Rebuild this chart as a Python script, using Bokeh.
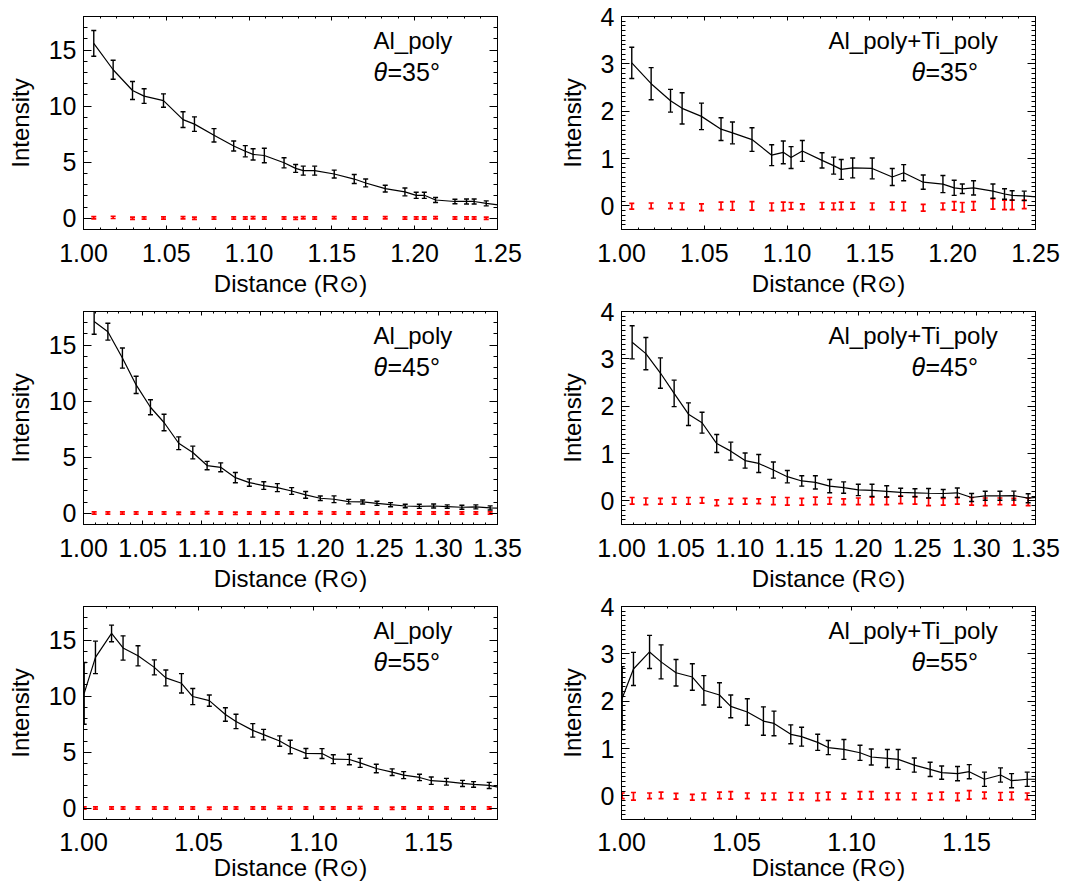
from bokeh.plotting import figure
from bokeh.models import (LinearAxis, FixedTicker, PrintfTickFormatter, Range1d, Label,
                          ColumnDataSource, CustomJSTickFormatter)
from bokeh.layouts import gridplot
from bokeh.embed import file_html
from bokeh.resources import INLINE
import numpy as np

FONT = "Liberation Sans"

# ---------------- data ----------------
x35 = [1.0062, 1.0179, 1.0296, 1.0366, 1.0483, 1.0601, 1.0670, 1.0788, 1.0907, 1.0977,
       1.1024, 1.1092, 1.1211, 1.1281, 1.1327, 1.1396, 1.1514, 1.1635, 1.1704, 1.1822,
       1.1941, 1.2009, 1.2058, 1.2126, 1.2243, 1.2313, 1.2359, 1.2432, 1.2550]
al35 = [15.6, 13.25, 11.4, 10.9, 10.5, 8.8, 8.4, 7.4, 6.45, 5.98, 5.7, 5.6, 4.95, 4.45, 4.25,
        4.25, 3.95, 3.5, 3.15, 2.65, 2.35, 2.05, 2.05, 1.63, 1.5, 1.5, 1.5, 1.33, 1.10]
al35_err = [1.15, 0.85, 0.8, 0.65, 0.6, 0.7, 0.65, 0.6, 0.45, 0.5, 0.5, 0.65, 0.45, 0.35, 0.4,
            0.4, 0.35, 0.4, 0.35, 0.3, 0.35, 0.27, 0.27, 0.22, 0.2, 0.22, 0.22, 0.22, 0.2]
al35_bg = [0.05, 0.08, 0.0, 0.03, 0.02, 0.04, 0.0, 0.02, 0.03, 0.02, 0.05, 0.02, 0.03, 0.0, 0.04,
           0.02, 0.05, 0.02, 0.03, 0.04, 0.03, 0.03, 0.02, 0.04, 0.02, 0.02, 0.03, 0.0, 0.0]
al35_bg_err = [0.1] * 29
ti35 = [3.02, 2.58, 2.22, 2.06, 1.89, 1.62, 1.54, 1.40, 1.07, 1.13, 1.02, 1.16, 0.96, 0.85, 0.77,
        0.80, 0.79, 0.61, 0.70, 0.50, 0.46, 0.38, 0.36, 0.38, 0.31, 0.25, 0.22, 0.21, 0.175]
ti35_err = [0.33, 0.34, 0.24, 0.33, 0.28, 0.24, 0.23, 0.25, 0.22, 0.24, 0.23, 0.22, 0.16, 0.18, 0.21,
            0.21, 0.22, 0.18, 0.17, 0.15, 0.18, 0.16, 0.10, 0.15, 0.15, 0.11, 0.10, 0.10, 0.10]
ti35_bg = [-0.01, 0.0, 0.0, -0.01, -0.03, 0.0, 0.0, 0.0, -0.02, -0.01, 0.0, -0.02, 0.0, -0.01, 0.0,
           0.0, -0.01, 0.0, -0.01, -0.04, -0.01, 0.0, -0.03, 0.0, 0.04, 0.02, 0.02, 0.03, 0.0]
ti35_bg_err = [0.06, 0.06, 0.06, 0.07, 0.07, 0.08, 0.09, 0.09, 0.08, 0.09, 0.07, 0.06, 0.07, 0.07, 0.08,
               0.07, 0.07, 0.08, 0.09, 0.07, 0.07, 0.09, 0.1, 0.09, 0.11, 0.1, 0.1, 0.09, 0.08]

x45 = [1.0090, 1.0206, 1.0329, 1.0445, 1.0566, 1.0681, 1.0805, 1.0924, 1.1045, 1.1160,
       1.1284, 1.1402, 1.1524, 1.1639, 1.1760, 1.1878, 1.2002, 1.2118, 1.2242, 1.2360,
       1.2481, 1.2596, 1.2720, 1.2839, 1.2960, 1.3075, 1.3199, 1.3317, 1.3438, 1.3556]
al45 = [17.1, 16.2, 13.85, 11.45, 9.46, 8.1, 6.25, 5.42, 4.26, 4.1, 3.18, 2.74, 2.47, 2.29, 1.99,
        1.64, 1.34, 1.25, 1.04, 1.01, 0.89, 0.77, 0.65, 0.62, 0.65, 0.6, 0.54, 0.57, 0.48, 0.43]
al45_err = [1.13, 0.75, 0.9, 0.77, 0.67, 0.74, 0.57, 0.57, 0.37, 0.4, 0.46, 0.33, 0.34, 0.36, 0.3,
            0.3, 0.2, 0.3, 0.2, 0.18, 0.18, 0.18, 0.15, 0.18, 0.18, 0.15, 0.18, 0.18, 0.18, 0.15]
al45_bg = [0.03, 0.02, 0.03, 0.02, 0.03, 0.02, 0.01, 0.02, 0.04, 0.02, 0.01, 0.02, 0.03, 0.02, 0.03,
           0.02, 0.04, 0.02, 0.03, 0.02, 0.03, 0.03, 0.02, 0.03, 0.02, 0.02, 0.03, 0.02, 0.02, 0.0]
al45_bg_err = [0.1] * 30
ti45 = [3.35, 3.11, 2.70, 2.27, 1.83, 1.65, 1.21, 1.05, 0.85, 0.79, 0.65, 0.51, 0.42, 0.39, 0.31,
        0.28, 0.23, 0.22, 0.20, 0.18, 0.17, 0.16, 0.155, 0.17, 0.07, 0.106, 0.106, 0.11, 0.056, 0.09]
ti45_err = [0.35, 0.34, 0.32, 0.28, 0.24, 0.22, 0.19, 0.19, 0.16, 0.19, 0.17, 0.13, 0.11, 0.14, 0.14,
            0.12, 0.12, 0.13, 0.12, 0.085, 0.085, 0.1, 0.085, 0.1, 0.085, 0.095, 0.095, 0.095, 0.095, 0.09]
ti45_bg = [0.0, -0.01, -0.01, 0.0, 0.0, 0.01, -0.04, -0.01, -0.01, -0.01, 0.0, -0.01, -0.02, 0.0, 0.0,
           -0.02, -0.01, 0.0, 0.0, 0.02, 0.01, -0.02, -0.02, 0.0, -0.01, -0.02, -0.01, -0.02, -0.02, 0.0]
ti45_bg_err = [0.07, 0.07, 0.06, 0.07, 0.07, 0.06, 0.06, 0.06, 0.06, 0.05, 0.08, 0.08, 0.07, 0.08, 0.07,
               0.06, 0.07, 0.08, 0.08, 0.08, 0.08, 0.08, 0.07, 0.07, 0.08, 0.08, 0.07, 0.07, 0.08, 0.07]

x55 = [1.0003, 1.0052, 1.0122, 1.0172, 1.0237, 1.0308, 1.0358, 1.0426, 1.0475, 1.0547,
       1.0617, 1.0663, 1.0736, 1.0783, 1.0853, 1.0899, 1.0967, 1.1037, 1.1086, 1.1156,
       1.1203, 1.1273, 1.1342, 1.1392, 1.1461, 1.1512, 1.1578, 1.1648, 1.1696, 1.1764, 1.1813]
al55 = [10.25, 13.46, 15.6, 14.3, 13.6, 12.57, 11.63, 11.15, 9.97, 9.6, 8.37, 7.75, 6.95, 6.57, 6.0,
        5.47, 4.9, 4.88, 4.38, 4.35, 4.05, 3.55, 3.22, 2.96, 2.75, 2.46, 2.37, 2.22, 2.13, 2.04, 1.85]
al55_err = [2.75, 1.45, 0.74, 1.08, 0.9, 0.67, 0.71, 0.86, 0.72, 0.5, 0.6, 0.64, 0.6, 0.47, 0.46,
            0.6, 0.43, 0.44, 0.4, 0.47, 0.4, 0.38, 0.3, 0.31, 0.28, 0.33, 0.3, 0.27, 0.25, 0.27, 0.25]
al55_bg = [0.03, 0.02, 0.03, 0.02, 0.03, 0.02, 0.03, 0.02, 0.02, 0.01, 0.02, 0.03, 0.02, 0.03, 0.04,
           0.02, 0.03, 0.02, 0.03, 0.02, 0.04, 0.02, 0.01, 0.03, 0.02, 0.03, 0.02, 0.03, 0.02, 0.02, 0.0]
al55_bg_err = [0.1] * 31
ti55 = [2.06, 2.68, 3.04, 2.83, 2.6, 2.51, 2.23, 2.13, 1.89, 1.77, 1.58, 1.53, 1.30, 1.25, 1.13,
        1.02, 0.98, 0.91, 0.82, 0.79, 0.77, 0.65, 0.56, 0.49, 0.47, 0.51, 0.35, 0.44, 0.32, 0.35, 0.35]
ti55_err = [0.67, 0.35, 0.35, 0.36, 0.28, 0.28, 0.31, 0.26, 0.24, 0.28, 0.3, 0.26, 0.2, 0.2, 0.17,
            0.15, 0.21, 0.16, 0.17, 0.19, 0.21, 0.15, 0.15, 0.14, 0.15, 0.15, 0.15, 0.15, 0.15, 0.15, 0.15]
ti55_bg = [0.0, -0.01, 0.0, 0.01, -0.01, -0.03, -0.01, 0.01, 0.01, 0.0, -0.02, -0.01, -0.01, -0.01, -0.02,
           0.0, -0.01, 0.01, 0.01, -0.01, -0.01, -0.01, -0.02, 0.0, -0.02, 0.02, 0.01, -0.01, 0.0, -0.01, 0.0]
ti55_bg_err = [0.06, 0.08, 0.06, 0.07, 0.06, 0.06, 0.07, 0.07, 0.08, 0.06, 0.07, 0.07, 0.08, 0.07, 0.08,
               0.08, 0.06, 0.08, 0.08, 0.07, 0.07, 0.07, 0.07, 0.08, 0.08, 0.09, 0.07, 0.08, 0.08, 0.07, 0.07]

# axis ticks / labels
x_ticks_a = [1.00, 1.05, 1.10, 1.15, 1.20, 1.25]
x_ticks_b = [1.00, 1.05, 1.10, 1.15, 1.20, 1.25, 1.30, 1.35]
x_ticks_c = [1.00, 1.05, 1.10, 1.15]
y_ticks_al = [0, 5, 10, 15]
y_ticks_ti = [0, 1, 2, 3, 4]

titles = ["Al_poly", "Al_poly+Ti_poly"]
angles = ["35", "45", "55"]


def style_axis(ax, ticker, minor, labels, tick_in, minor_in, fmt=None, label=None,
               standoff=0, lab_standoff=7):
    ax.ticker = FixedTicker(ticks=ticker, minor_ticks=minor)
    ax.axis_line_color = "black"
    ax.axis_line_width = 1
    ax.major_tick_line_color = "black"
    ax.minor_tick_line_color = "black"
    ax.major_tick_in = tick_in
    ax.major_tick_out = 0
    ax.minor_tick_in = minor_in
    ax.minor_tick_out = 0
    if labels:
        ax.formatter = PrintfTickFormatter(format=fmt)
        ax.major_label_text_font = FONT
        ax.major_label_text_font_size = "25px"
        ax.major_label_text_color = "black"
        ax.major_label_standoff = lab_standoff
    else:
        ax.formatter = CustomJSTickFormatter(code="return ''")
        ax.major_label_text_font_size = "2px"
        ax.major_label_standoff = 0
    if label:
        ax.axis_label = label
        ax.axis_label_text_font = FONT
        ax.axis_label_text_font_size = "24px"
        ax.axis_label_text_font_style = "normal"
        ax.axis_label_text_color = "black"
        ax.axis_label_standoff = standoff


def panel(x, y, e, bg, bge, xr, xt, yr, yt, yminor, title, angle, left, height, top, bottom,
          xlab_standoff, xtick_standoff):
    p = figure(width=540, height=height, output_backend="svg", toolbar_location=None,
               x_range=Range1d(*xr), y_range=Range1d(*yr),
               min_border_left=83 if left else 81, min_border_right=43 if left else 45,
               min_border_top=top, min_border_bottom=bottom,
               x_axis_type=None, y_axis_type=None)
    p.grid.visible = False
    p.outline_line_color = "black"
    p.background_fill_color = "white"
    p.border_fill_color = "white"

    xminor = [round(v, 3) for v in np.arange(xr[0], xr[1] + 1e-9, 0.01)]
    bx = LinearAxis(); style_axis(bx, xt, xminor, True, 4, 2, "%.2f", "Distance (R\u2299)",
                                  xlab_standoff, xtick_standoff)
    tx = LinearAxis(); style_axis(tx, xt, xminor, False, 4, 2)
    ly = LinearAxis(); style_axis(ly, yt, yminor, True, 8, 4, "%d", "Intensity", 12, 7)
    ry = LinearAxis(); style_axis(ry, yt, yminor, False, 8, 4)
    p.add_layout(bx, "below")
    p.add_layout(tx, "above")
    p.add_layout(ly, "left")
    p.add_layout(ry, "right")

    ya = np.array(y); ea = np.array(e)
    ba = np.array(bg); bea = np.array(bge)
    src = ColumnDataSource(dict(x=x, y=y, lo=list(ya - ea), hi=list(ya + ea),
                                blo=list(ba - bea), bhi=list(ba + bea)))
    # background (red) error bars
    p.segment("x", "blo", "x", "bhi", source=src, line_color="red", line_width=1.7)
    p.scatter("x", "blo", source=src, marker="dash", size=5, line_color="red", line_width=1.7)
    p.scatter("x", "bhi", source=src, marker="dash", size=5, line_color="red", line_width=1.7)
    # signal
    p.line("x", "y", source=src, line_color="black", line_width=1.2)
    p.segment("x", "lo", "x", "hi", source=src, line_color="black", line_width=1.4)
    p.scatter("x", "lo", source=src, marker="dash", size=5, line_color="black", line_width=1.4)
    p.scatter("x", "hi", source=src, marker="dash", size=5, line_color="black", line_width=1.4)

    tx0 = 290 if left else 207
    p.add_layout(Label(x=tx0, y=189, x_units="screen", y_units="screen", text=title,
                       text_font=FONT, text_font_size="24px", text_color="black",
                       text_baseline="alphabetic"))
    p.add_layout(Label(x=290, y=158, x_units="screen", y_units="screen", text="\u03b8",
                       text_font=FONT, text_font_size="25px", text_font_style="italic",
                       text_color="black", text_baseline="alphabetic"))
    p.add_layout(Label(x=304, y=158, x_units="screen", y_units="screen", text="=" + angle + "\u00b0",
                       text_font=FONT, text_font_size="25px", text_color="black",
                       text_baseline="alphabetic"))
    return p


al_minor = list(range(-1, 19))
ti_minor = [round(v, 2) for v in np.arange(-0.5, 4.0001, 0.1)]

# rows: (height, top border, bottom border, label standoff, tick-label standoff)
rows = [(299, 16, 70, 5, 14), (295, 12, 70, 5, 14), (289, 12, 64, 0, 13)]

p1 = panel(x35, al35, al35_err, al35_bg, al35_bg_err, (1.0, 1.25), x_ticks_a, (-1, 18), y_ticks_al, al_minor,
           titles[0], angles[0], True, *rows[0])
p2 = panel(x35, ti35, ti35_err, ti35_bg, ti35_bg_err, (1.0, 1.25), x_ticks_a, (-0.5, 4), y_ticks_ti, ti_minor,
           titles[1], angles[0], False, *rows[0])
p3 = panel(x45, al45, al45_err, al45_bg, al45_bg_err, (1.0, 1.35), x_ticks_b, (-1, 18), y_ticks_al, al_minor,
           titles[0], angles[1], True, *rows[1])
p4 = panel(x45, ti45, ti45_err, ti45_bg, ti45_bg_err, (1.0, 1.35), x_ticks_b, (-0.5, 4), y_ticks_ti, ti_minor,
           titles[1], angles[1], False, *rows[1])
p5 = panel(x55, al55, al55_err, al55_bg, al55_bg_err, (1.0, 1.18), x_ticks_c, (-1, 18), y_ticks_al, al_minor,
           titles[0], angles[2], True, *rows[2])
p6 = panel(x55, ti55, ti55_err, ti55_bg, ti55_bg_err, (1.0, 1.18), x_ticks_c, (-0.5, 4), y_ticks_ti, ti_minor,
           titles[1], angles[2], False, *rows[2])

grid = gridplot([[p1, p2], [p3, p4], [p5, p6]], toolbar_location=None)

open("out.html", "w").write(file_html(grid, INLINE))
